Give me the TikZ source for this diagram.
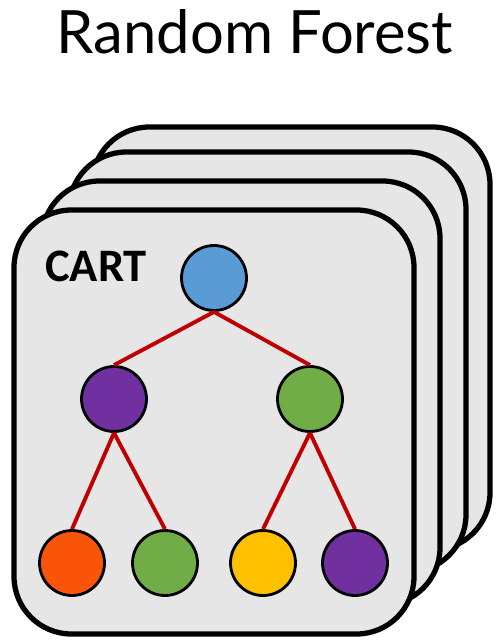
\documentclass[tikz,border=0pt]{standalone}
\usepackage{fontspec}
\setmainfont{Lato}
\newfontfamily\cartfont{Carlito}
\definecolor{cardgray}{HTML}{E6E6E6}
\definecolor{edgered}{HTML}{C00000}
\definecolor{nblue}{HTML}{5B9BD5}
\definecolor{npurple}{HTML}{7030A0}
\definecolor{ngreen}{HTML}{70AD47}
\definecolor{norange}{HTML}{FA5408}
\definecolor{nyellow}{HTML}{FFC000}

\begin{document}
\begin{tikzpicture}[x=0.02cm,y=-0.02cm,
    card/.style={draw=black,line width=3pt,fill=cardgray,rounded corners=1.15cm},
    tnode/.style={draw=black,circle,line width=1.6pt,minimum size=1.3cm,inner sep=0pt},
    split/.style={draw=edgered,line width=2.2pt}]
  \useasboundingbox (0,0) rectangle (500,641);

  % Title
  \node[anchor=base] (title) at (255,54) {\fontsize{34}{40}\selectfont Random Forest};

  % Stack of trees (back to front)
  \draw[card] (92,127) rectangle (490,550);
  \draw[card] (69,152) rectangle (466,572);
  \draw[card] (42,181) rectangle (440,605);
  \draw[card] (14,210) rectangle (414,634);

  \node[anchor=base west,inner sep=0pt] (cart) at (45,282) {\cartfont\bfseries\fontsize{26.5}{30}\selectfont CART};

  % Tree
  \node[tnode,fill=nblue] (root) at (214,278) {};
  \node[tnode,fill=npurple] (left) at (114,399) {};
  \node[tnode,fill=ngreen] (right) at (310,399) {};
  \node[tnode,fill=norange] (ll) at (72,563) {};
  \node[tnode,fill=ngreen] (lr) at (165,563) {};
  \node[tnode,fill=nyellow] (rl) at (263,563) {};
  \node[tnode,fill=npurple] (rr) at (355,563) {};

\draw[split](root.south)--(left.north);
\draw[split](root.south)--(right.north);
\draw[split](left.south)--(ll.north);
\draw[split](left.south)--(lr.north);
\draw[split](right.south)--(rl.north);
\draw[split](right.south)--(rr.north);

\end{tikzpicture}
\end{document}
